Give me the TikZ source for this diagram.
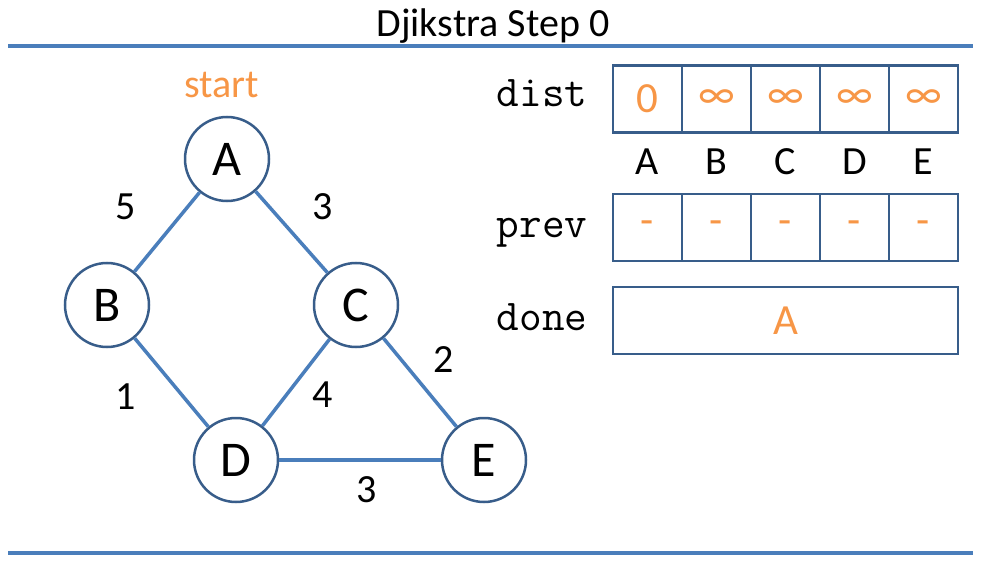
\documentclass[tikz,border=0pt]{standalone}
\usepackage{fontspec}
\setmainfont{Carlito}
\definecolor{edgeblue}{HTML}{4A7EBB}
\definecolor{rimblue}{HTML}{385D8A}
\definecolor{startorange}{HTML}{F79646}
\newcommand{\fsz}[1]{\fontsize{#1}{#1}\selectfont}
\begin{document}
\begin{tikzpicture}[x=1pt, y=-1pt,
    vertex/.style={circle, draw=rimblue, line width=2.5pt, fill=white,
      minimum size=84pt, inner sep=0pt, font=\fsz{50}},
    edge/.style={draw=edgeblue, line width=3.5pt},
    weight/.style={font=\fsz{40}},
    rule/.style={draw=edgeblue, line width=4pt},
    cell/.style={draw=rimblue, line width=2.5pt, minimum width=69pt,
      minimum height=67pt, inner sep=0pt, text=startorange, font=\fsz{43}},
    rowname/.style={anchor=base, font=\ttfamily\fsz{44}},
    colname/.style={anchor=base, font=\fsz{40}}]
    \useasboundingbox (0,0) rectangle (987,572);

    % Title and rules
    \node[anchor=base, font=\fsz{40}] (title) at (493,37) {Djikstra Step 0};
    \coordinate (topL) at (8,46);
    \coordinate (topR) at (973,46);
    \coordinate (botL) at (8,553);
    \coordinate (botR) at (973,553);
    \draw[rule] (topL) -- (topR);
    \draw[rule] (botL) -- (botR);

    % Graph
    \node[vertex] (A) at (227,159) {A};
    \node[vertex] (B) at (107,305) {B};
    \node[vertex] (C) at (356,305) {C};
    \node[vertex] (D) at (236,460) {D};
    \node[vertex] (E) at (484,460) {E};
    \node[anchor=base, text=startorange, font=\fsz{40}] (start) at (222,98) {start};

    \draw[edge] (A) -- (B);
    \draw[edge] (A) -- (C);
    \draw[edge] (B) -- (D);
    \draw[edge] (C) -- (D);
    \draw[edge] (C) -- (E);
    \draw[edge] (D) -- (E);

    \node[weight] (wAB) at (126,207) {5};
    \node[weight] (wAC) at (323,207) {3};
    \node[weight] (wBD) at (126,397) {1};
    \node[weight] (wCD) at (323,395) {4};
    \node[weight] (wCE) at (444,360) {2};
    \node[weight] (wDE) at (367,490) {3};

    % Table
    \node[rowname] (dist) at (542,107) {dist};
    \node[rowname] (prev) at (542,237) {prev};
    \node[rowname] (done) at (542,330) {done};
    \foreach \v [count=\i] in {0,∞,∞,∞,∞}
      \node[cell] (d\i) at (613+69*\i-34.5,99) {\v};
    \foreach \n [count=\i] in {A,B,C,D,E}{
      \node[colname] (c\i) at (613+69*\i-34.5,175) {\n};
      \node[cell] (p\i) at (613+69*\i-34.5,227.5) {-};
    }
    \node[cell, minimum width=345pt] (doneset) at (785.5,320.5) {A};
\end{tikzpicture}
\end{document}
